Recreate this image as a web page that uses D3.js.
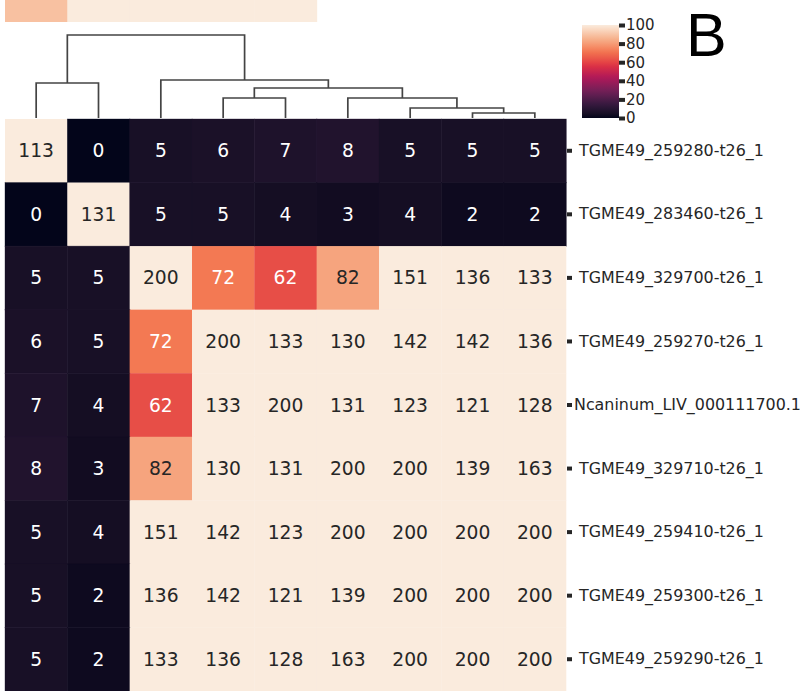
<!DOCTYPE html>
<html>
<head>
<meta charset="utf-8">
<script src="https://cdn.jsdelivr.net/npm/d3@7"></script>
<style>
  html, body { margin: 0; padding: 0; background: #ffffff; }
  svg { display: block; font-family: "DejaVu Sans", sans-serif; }
</style>
</head>
<body>
<svg id="chart" width="800" height="691"></svg>
<script>
// ---- data ----
const rowLabels = [
  " TGME49_259280-t26_1",
  " TGME49_283460-t26_1",
  " TGME49_329700-t26_1",
  " TGME49_259270-t26_1",
  "Ncaninum_LIV_000111700.1",
  " TGME49_329710-t26_1",
  " TGME49_259410-t26_1",
  " TGME49_259300-t26_1",
  " TGME49_259290-t26_1"
];
const colIndex = [0, 1, 2, 3, 4, 5, 6, 7, 8];

const row0 = [113, 0, 5, 6, 7, 8, 5, 5, 5];
const row1 = [0, 131, 5, 5, 4, 3, 4, 2, 2];
const row2 = [5, 5, 200, 72, 62, 82, 151, 136, 133];
const row3 = [6, 5, 72, 200, 133, 130, 142, 142, 136];
const row4 = [7, 4, 62, 133, 200, 131, 123, 121, 128];
const row5 = [8, 3, 82, 130, 131, 200, 200, 139, 163];
const row6 = [5, 4, 151, 142, 123, 200, 200, 200, 200];
const row7 = [5, 2, 136, 142, 121, 139, 200, 200, 200];
const row8 = [5, 2, 133, 136, 128, 163, 200, 200, 200];
const matrix = [row0, row1, row2, row3, row4, row5, row6, row7, row8];

// bottom row of the panel above (partially visible)
const stripValues = [89, 200, 200, 200, 200];

// column linkage: [left child, right child, merge distance]; leaves 0..8, merged nodes 9..
const linkage = [
  [7, 8, 5],     // 9
  [6, 9, 10],    // 10
  [3, 4, 20],    // 11
  [5, 10, 20],   // 12
  [11, 12, 30],  // 13
  [0, 1, 35],    // 14
  [2, 13, 38],   // 15
  [14, 15, 83]   // 16
];

const colorbarTicks = [0, 20, 40, 60, 80, 100];
const panelLetter = "B";

// ---- rocket colormap ----
const rocketStops = ["#03051a", "#35193e", "#701f57", "#ad1759", "#e13342", "#f37651", "#f6b48f", "#faebdd"];
const rocket = d3.piecewise(d3.interpolateLab, rocketStops);
const color = d3.scaleSequential(rocket).domain([0, 100]).clamp(true);

// ---- layout ----
const svg = d3.select("#chart");
const x = d3.scaleBand().domain(colIndex).range([5, 566]).padding(0);
const y = d3.scaleBand().domain(d3.range(matrix.length)).range([119, 691]).padding(0);

// strip from the panel above
svg.append("g").selectAll("rect")
  .data(stripValues)
  .join("rect")
  .attr("x", (d, i) => x(i))
  .attr("y", 0)
  .attr("width", x.bandwidth() + 0.5)
  .attr("height", 22)
  .attr("fill", d => color(d));

// heatmap cells
const cells = [];
matrix.forEach((row, r) => row.forEach((v, c) => cells.push({ r, c, v })));

function lum(c) {
  const rgb = d3.rgb(c);
  const f = u => { u /= 255; return u <= 0.03928 ? u / 12.92 : Math.pow((u + 0.055) / 1.055, 2.4); };
  return 0.2126 * f(rgb.r) + 0.7152 * f(rgb.g) + 0.0722 * f(rgb.b);
}

const gCells = svg.append("g");
gCells.selectAll("rect")
  .data(cells)
  .join("rect")
  .attr("x", d => x(d.c))
  .attr("y", d => y(d.r))
  .attr("width", x.bandwidth() + 0.3)
  .attr("height", y.bandwidth() + 0.3)
  .attr("fill", d => color(d.v))
  .attr("stroke", d => lum(color(d.v)) < 0.2 ? d3.color(color(d.v)).brighter(0.35) : "none")
  .attr("stroke-opacity", 0.6)
  .attr("stroke-width", 0.6);

// annotations
gCells.selectAll("text")
  .data(cells)
  .join("text")
  .attr("x", d => x(d.c) + x.bandwidth() / 2)
  .attr("y", d => y(d.r) + y.bandwidth() / 2)
  .attr("text-anchor", "middle")
  .attr("dominant-baseline", "central")
  .attr("font-size", "18.7px")
  .attr("fill", d => lum(color(d.v)) > 0.408 ? "#262626" : "#ffffff")
  .text(d => d.v);

// row labels on the right
const yAxis = d3.axisRight(y)
  .tickSize(0)
  .tickPadding(0)
  .tickFormat(i => rowLabels[i]);
const gy = svg.append("g").attr("transform", "translate(566,0)").call(yAxis);
gy.select(".domain").remove();
gy.selectAll(".tick").append("rect")
  .attr("x", 1).attr("y", -2).attr("width", 5).attr("height", 4)
  .attr("fill", "#262626");
gy.selectAll(".tick text")
  .attr("x", 8)
  .attr("font-size", "15.9px")
  .attr("font-family", "DejaVu Sans, sans-serif")
  .attr("fill", "#262626")
  .style("white-space", "pre")
  .attr("xml:space", "preserve");

// column dendrogram
const nodePos = {};
colIndex.forEach(i => { nodePos[i] = { x: x(i) + x.bandwidth() / 2, h: 0 }; });
const maxH = d3.max(linkage, d => d[2]);
const hScale = d3.scaleLinear().domain([0, maxH]).range([118, 35]);
const links = [];
linkage.forEach((lk, k) => {
  const a = nodePos[lk[0]], b = nodePos[lk[1]], h = lk[2];
  links.push([[a.x, a.h], [a.x, h], [b.x, h], [b.x, b.h]]);
  nodePos[colIndex.length + k] = { x: (a.x + b.x) / 2, h };
});
const line = d3.line().x(p => p[0]).y(p => hScale(p[1]));
svg.append("g").selectAll("path")
  .data(links)
  .join("path")
  .attr("d", line)
  .attr("fill", "none")
  .attr("stroke", "#444444")
  .attr("stroke-width", 1.7);

// colorbar
const cbX = 582, cbW = 37;
const cbScale = d3.scaleLinear().domain([0, 100]).range([118, 25]);
const defs = svg.append("defs");
const grad = defs.append("linearGradient")
  .attr("id", "cbGrad").attr("x1", 0).attr("y1", 1).attr("x2", 0).attr("y2", 0);
d3.range(0, 1.0001, 0.05).forEach(t => {
  grad.append("stop").attr("offset", t).attr("stop-color", color(t * 100));
});
svg.append("rect")
  .attr("x", cbX).attr("y", cbScale(100))
  .attr("width", cbW).attr("height", cbScale(0) - cbScale(100))
  .attr("fill", "url(#cbGrad)");
const cbAxis = d3.axisRight(cbScale).tickValues(colorbarTicks).tickSize(0).tickPadding(0);
const gcb = svg.append("g").attr("transform", `translate(${cbX + cbW},0)`).call(cbAxis);
gcb.select(".domain").remove();
gcb.selectAll(".tick").append("rect")
  .attr("x", 0).attr("y", -2).attr("width", 6).attr("height", 4)
  .attr("fill", "#262626");
gcb.selectAll(".tick text")
  .attr("x", 7)
  .attr("font-size", "15px")
  .attr("font-family", "DejaVu Sans, sans-serif")
  .attr("fill", "#262626");

// panel letter
svg.append("text")
  .attr("x", 686).attr("y", 56)
  .attr("font-family", "Liberation Sans, Arial, sans-serif")
  .attr("font-size", "61px")
  .attr("fill", "#000")
  .text(panelLetter);
</script>
</body>
</html>
